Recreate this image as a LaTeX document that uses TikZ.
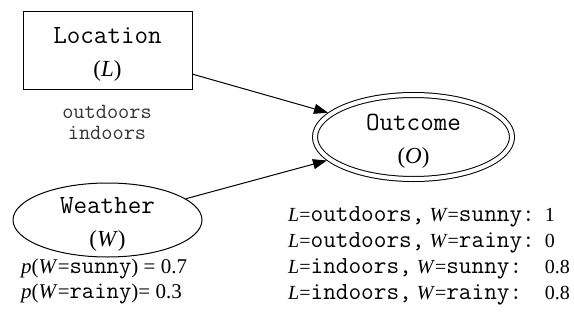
\documentclass[tikz,border=0pt]{standalone}
\usepackage{fontspec}
\setmainfont{Liberation Serif}
\setmonofont{Latin Modern Mono}[Scale=1.143]
\usetikzlibrary{arrows.meta,shapes.geometric}

\newcommand{\bigtt}[1]{{\fontsize{21.5}{26}\ttfamily #1}}
\newcommand{\varname}[2]{\rule{0pt}{25pt}\texttt{#1}\\(\textit{#2})}

\tikzset{
  var/.style={draw, line width=1pt, inner sep=0pt, align=center,
    font=\fontsize{23}{33}\selectfont},
  link/.style={line width=1pt, -{Triangle[length=14pt,width=10pt]}},
  note/.style={inner sep=0pt, font=\fontsize{20}{25}\selectfont},
}

\begin{document}
\begin{tikzpicture}[x=1pt,y=-1pt]
\useasboundingbox (0,0) rectangle (574,322);

% Knoten
\node[var, rectangle, minimum width=169pt, minimum height=78pt] (loc) at (107.5,50)
  {\varname{Location}{L}};
\node[var, ellipse, inner ysep=-8pt, minimum width=189pt, minimum height=74pt] (wea) at (107.5,220)
  {\varname{Weather}{W}};
\node[var, ellipse, inner ysep=-8pt, double, double distance=4pt, outer sep=3pt,
  minimum width=197pt, minimum height=84pt] (out) at (413.5,137)
  {\varname{Outcome}{O}};

% Kanten
\draw[link] (loc) -- (out);
\draw[link] (wea) -- (out);

% Werte und Tabellen
\node[note, align=center, font=\ttfamily\fontsize{19}{21}\selectfont, text=black!80] (locvals) at (107,122)
  {outdoors\\indoors};
\node[note, align=left, anchor=west, font=\fontsize{21}{25}\selectfont] (weaprob) at (21,281)
  {\textit{p}(\textit{W}=\texttt{sunny}) = 0.7\\
   \textit{p}(\textit{W}=\texttt{rainy})= 0.3};
\node[note, anchor=west, font=\fontsize{20}{26}\selectfont] (outtab) at (288,255)
  {\begin{tabular}{@{}l@{\hspace{10pt}}l@{}}
   \textit{L}=\bigtt{outdoors,} \textit{W}=\bigtt{sunny:} & 1\\
   \textit{L}=\bigtt{outdoors,} \textit{W}=\bigtt{rainy:} & 0\\
   \textit{L}=\bigtt{indoors,} \textit{W}=\bigtt{sunny:} & 0.8\\
   \textit{L}=\bigtt{indoors,} \textit{W}=\bigtt{rainy:} & 0.8
   \end{tabular}};

\end{tikzpicture}
\end{document}
